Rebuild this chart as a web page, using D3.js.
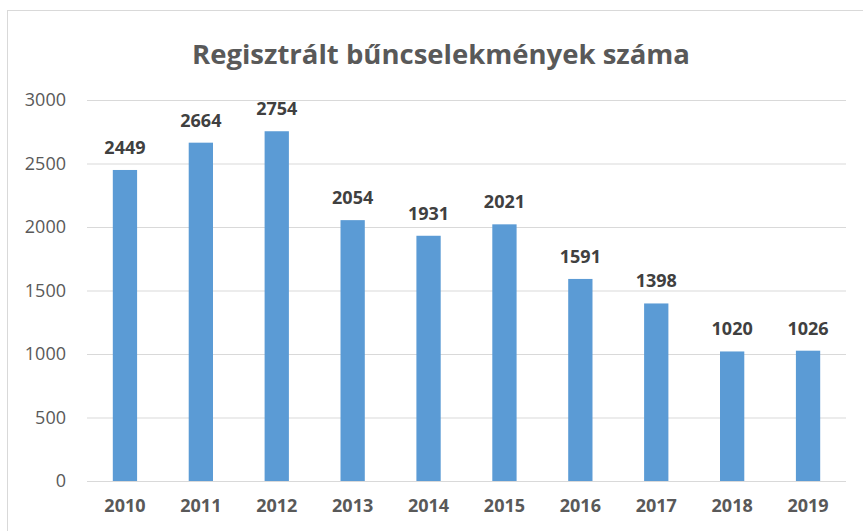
<!DOCTYPE html>
<head>
<meta charset="utf-8">
<script src="https://d3js.org/d3.v7.min.js"></script>
<style>
    body { margin: 0; background: #fff; }
    text { font-family: "Open Sans", sans-serif; }
    .grid line { stroke: #d9d9d9; stroke-width: 1px; }
    .grid path { stroke-width: 0; }
    .yAxis text { fill: #595959; font-size: 18px; }
    .xAxis text { fill: #595959; font-size: 18px; font-weight: bold; }
    .label { fill: #404040; font-size: 18px; font-weight: bold; }
    .title { fill: #595959; font-size: 27.5px; font-weight: bold; }
</style>
</head>
<body>
<svg width="863" height="531"></svg>
<script>
    var years = ["2010", "2011", "2012", "2013", "2014", "2015", "2016", "2017", "2018", "2019"];
    var crimes = [2449, 2664, 2754, 2054, 1931, 2021, 1591, 1398, 1020, 1026];
    var yTicks = [0, 500, 1000, 1500, 2000, 2500, 3000];

    var svg = d3.select("svg");

    // chart area frame
    svg.append("rect")
        .attr("x", 7.5).attr("y", 10.5)
        .attr("width", 900).attr("height", 600)
        .attr("fill", "none")
        .attr("stroke", "#d9d9d9");

    var margin = {left: 87, right: 846, top: 100, bottom: 481};

    var x = d3.scaleBand()
        .domain(years)
        .range([margin.left, margin.right])
        .paddingInner(0.68)
        .paddingOuter(0.34);

    var y = d3.scaleLinear()
        .domain([0, 3000])
        .range([margin.bottom, margin.top]);

    // horizontal gridlines
    svg.append("g")
        .attr("class", "grid")
        .attr("transform", "translate(" + margin.left + ",0)")
        .call(d3.axisLeft(y).tickValues(yTicks).tickSize(-(margin.right - margin.left)).tickFormat(""));

    // y axis labels
    var yAxis = svg.append("g")
        .attr("class", "yAxis")
        .attr("transform", "translate(66,0)")
        .call(d3.axisLeft(y).tickValues(yTicks).tickSize(0).tickPadding(0).tickFormat(d3.format("d")));
    yAxis.select(".domain").remove();
    yAxis.selectAll("text").attr("font-family", null);

    // x axis labels
    var xAxis = svg.append("g")
        .attr("class", "xAxis")
        .attr("transform", "translate(0," + margin.bottom + ")")
        .call(d3.axisBottom(x).tickSize(0).tickPadding(18));
    xAxis.select(".domain").remove();
    xAxis.selectAll("text").attr("font-family", null);

    // bars
    svg.append("g").selectAll("rect")
        .data(crimes)
        .enter().append("rect")
        .attr("x", function(d, i) { return x(years[i]); })
        .attr("y", function(d) { return y(d); })
        .attr("width", x.bandwidth())
        .attr("height", function(d) { return y(0) - y(d); })
        .attr("fill", "#5b9bd5");

    // value labels
    svg.append("g").selectAll("text")
        .data(crimes)
        .enter().append("text")
        .attr("class", "label")
        .attr("x", function(d, i) { return x(years[i]) + x.bandwidth() / 2; })
        .attr("y", function(d) { return y(d) - 16; })
        .attr("text-anchor", "middle")
        .text(function(d) { return d; });

    svg.append("text")
        .attr("class", "title")
        .attr("x", 441)
        .attr("y", 64)
        .attr("text-anchor", "middle")
        .text("Regisztrált bűncselekmények száma");
</script>
</body>
